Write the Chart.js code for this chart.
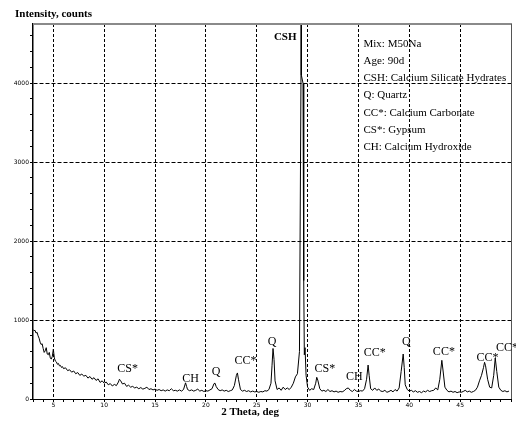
<!DOCTYPE html>
<html>
<head>
<meta charset="utf-8">
<script src="https://cdn.jsdelivr.net/npm/chart.js@4.4.0/dist/chart.umd.min.js"></script>
<style>
  html, body { margin: 0; padding: 0; background: #fff; }
  #wrap { width: 516px; height: 427px; }
</style>
</head>
<body>
<div id="wrap"><canvas id="chart" width="516" height="427"></canvas></div>
<script>
// 2 Theta (deg) and intensity (counts)
const twoTheta = [
  3.0, 3.1, 3.2, 3.3, 3.4, 3.5, 3.6, 3.7, 3.8, 3.9,
  4.0, 4.1, 4.2, 4.3, 4.4, 4.5, 4.6, 4.7, 4.8, 4.9,
  5.0, 5.1, 5.2, 5.3, 5.4, 5.5, 5.6, 5.7, 5.8, 5.9,
  6.0, 6.2, 6.4, 6.6, 6.8, 7.0, 7.2, 7.4, 7.6, 7.8,
  8.0, 8.2, 8.4, 8.6, 8.8, 9.0, 9.2, 9.4, 9.6, 9.8,
  10.0, 10.2, 10.4, 10.6, 10.8, 11.0, 11.2, 11.4, 11.5, 11.6,
  11.8, 12.0, 12.2, 12.4, 12.6, 12.8, 13.0, 13.2, 13.4, 13.6,
  13.8, 14.0, 14.2, 14.4, 14.6, 14.8, 15.0, 15.2, 15.4, 15.6,
  15.8, 16.0, 16.2, 16.4, 16.6, 16.8, 17.0, 17.2, 17.4, 17.6,
  17.8, 18.0, 18.1, 18.2, 18.4, 18.6, 18.8, 19.0, 19.2, 19.4,
  19.6, 19.8, 20.0, 20.2, 20.4, 20.6, 20.8, 20.9, 21.0, 21.2,
  21.4, 21.6, 21.8, 22.0, 22.2, 22.4, 22.6, 22.8, 23.0, 23.1,
  23.2, 23.4, 23.6, 23.8, 24.0, 24.2, 24.4, 24.6, 24.8, 25.0,
  25.2, 25.4, 25.6, 25.8, 26.0, 26.2, 26.4, 26.5, 26.6, 26.7,
  26.8, 27.0, 27.2, 27.4, 27.6, 27.8, 28.0, 28.2, 28.4, 28.6,
  28.8, 29.0, 29.2, 29.35, 29.37, 29.39, 29.55, 29.62, 29.68, 29.75,
  29.85, 30.0, 30.2, 30.4, 30.6, 30.8, 30.9, 31.0, 31.2, 31.4,
  31.6, 31.8, 32.0, 32.2, 32.4, 32.6, 32.8, 33.0, 33.2, 33.4,
  33.6, 33.8, 34.0, 34.2, 34.4, 34.6, 34.8, 35.0, 35.2, 35.4,
  35.6, 35.8, 35.95, 36.05, 36.2, 36.4, 36.6, 36.8, 37.0, 37.2,
  37.4, 37.6, 37.8, 38.0, 38.2, 38.4, 38.6, 38.8, 39.0, 39.2,
  39.4, 39.5, 39.6, 39.8, 40.0, 40.2, 40.4, 40.6, 40.8, 41.0,
  41.2, 41.4, 41.6, 41.8, 42.0, 42.2, 42.4, 42.6, 42.8, 43.0,
  43.2, 43.3, 43.5, 43.7, 43.9, 44.1, 44.3, 44.5, 44.7, 44.9,
  45.1, 45.3, 45.5, 45.7, 45.9, 46.1, 46.3, 46.5, 46.7, 46.9,
  47.1, 47.3, 47.4, 47.5, 47.7, 47.9, 48.1, 48.3, 48.45, 48.6,
  48.8, 49.0, 49.2, 49.4, 49.6, 49.8
];
const counts = [
  880, 865, 870, 835, 845, 800, 770, 720, 690, 700,
  640, 590, 610, 650, 570, 560, 590, 520, 505, 540,
  630, 520, 480, 470, 440, 450, 420, 425, 400, 410,
  385, 395, 360, 370, 340, 355, 320, 335, 300, 315,
  290, 300, 265, 285, 250, 270, 235, 255, 210, 230,
  200, 215, 180, 195, 165, 185, 170, 215, 250, 235,
  190, 200, 160, 175, 150, 160, 140, 150, 130, 145,
  125, 135, 150, 120, 130, 115, 125, 110, 120, 105,
  115, 100, 115, 105, 130, 105, 110, 100, 115, 100,
  120, 205, 160, 120, 105, 115, 100, 110, 125, 100,
  110, 95, 105, 100, 115, 130, 195, 200, 160, 120,
  105, 115, 100, 110, 95, 105, 115, 170, 300, 330,
  250, 120, 100, 110, 95, 105, 90, 100, 90, 95,
  85, 95, 90, 105, 100, 120, 200, 420, 640, 500,
  230, 120, 140, 110, 150, 120, 140, 120, 150, 200,
  280, 320, 600, 4100, 4750, 4100, 4000, 1500, 560, 650,
  300, 150, 110, 130, 120, 200, 275, 240, 130, 100,
  110, 95, 120, 95, 105, 90, 100, 85, 95, 90,
  105, 130, 140, 110, 95, 120, 100, 95, 105, 100,
  130, 250, 430, 300, 130, 110, 140, 110, 125, 100,
  95, 110, 85, 95, 110, 90, 120, 100, 140, 350,
  570, 400, 180, 120, 100, 110, 90, 105, 85, 95,
  80, 100, 90, 110, 95, 105, 110, 140, 115, 250,
  490, 380, 150, 110, 90, 100, 85, 95, 80, 90,
  85, 95, 110, 90, 100, 85, 95, 110, 150, 230,
  300, 400, 465, 420, 250, 150, 140, 300, 520, 350,
  150, 110, 95, 105, 90, 100
];

// phase labels over the peaks: text, 2 Theta, counts
const peakNames  = ['CS*', 'CH', 'Q', 'CC*', 'Q', 'CS*', 'CH', 'CC*', 'Q', 'CC*', 'CC*', 'CC*'];
const peakTheta  = [12.3, 18.5, 21.0, 23.9, 26.5, 31.7, 34.6, 36.6, 39.7, 43.4, 47.7, 49.6];
const peakCounts = [380, 250, 350, 480, 730, 380, 280, 580, 720, 595, 520, 650];

const legendLines = [
  'Mix: M50Na',
  'Age: 90d',
  'CSH: Calcium Silicate Hydrates',
  'Q: Quartz',
  'CC*: Calcium Carbonate',
  'CS*: Gypsum',
  'CH: Calcium Hydroxide'
];

const xTickLabels = [5, 10, 15, 20, 25, 30, 35, 40, 45];
const yTickLabels = [0, 1000, 2000, 3000, 4000];

const serif = "'Liberation Serif', 'Times New Roman', serif";

const decorations = {
  id: 'decorations',
  afterDraw(chart) {
    const {ctx, chartArea: a, scales: {x, y}} = chart;
    ctx.save();
    // top and right frame
    ctx.strokeStyle = '#8a8a8a';
    ctx.lineWidth = 2;
    ctx.beginPath();
    ctx.moveTo(a.left, a.top);
    ctx.lineTo(a.right + 1, a.top);
    ctx.stroke();
    ctx.lineWidth = 1;
    ctx.strokeStyle = '#555';
    ctx.beginPath();
    ctx.moveTo(a.right + 0.5, a.top);
    ctx.lineTo(a.right + 0.5, a.bottom);
    ctx.stroke();

    ctx.fillStyle = '#000';
    ctx.textAlign = 'center';
    ctx.textBaseline = 'middle';
    ctx.font = '12px ' + serif;
    peakNames.forEach((t, i) => {
      ctx.fillText(t, x.getPixelForValue(peakTheta[i]), y.getPixelForValue(peakCounts[i]));
    });
    ctx.font = 'bold 11px ' + serif;
    ctx.fillText('CSH', x.getPixelForValue(27.8), y.getPixelForValue(4580));

    ctx.textAlign = 'left';
    ctx.font = '11px ' + serif;
    legendLines.forEach((t, i) => {
      ctx.fillText(t, x.getPixelForValue(35.5), a.top + 20 + i * 17.2);
    });

    ctx.font = 'bold 11px ' + serif;
    ctx.fillText('Intensity, counts', 15, 14);
    ctx.textAlign = 'center';
    ctx.fillText('2 Theta, deg', 250, 412);
    ctx.restore();
  }
};

new Chart(document.getElementById('chart'), {
  type: 'line',
  data: {
    labels: twoTheta,
    datasets: [{
      data: twoTheta.map((t, i) => ({x: t, y: counts[i]})),
      borderColor: '#000',
      borderWidth: 1,
      pointRadius: 0,
      tension: 0,
      fill: false
    }]
  },
  options: {
    responsive: false,
    animation: false,
    events: [],
    layout: {padding: {top: 24, right: 5, left: 0, bottom: 0}},
    plugins: {legend: {display: false}, tooltip: {enabled: false}},
    scales: {
      x: {
        type: 'linear',
        min: 3,
        max: 50,
        afterFit(s) { s.height = 28; },
        ticks: {
          stepSize: 1,
          autoSkip: false,
          maxRotation: 0,
          padding: 0,
          color: '#000',
          font: {size: 6, family: 'DejaVu Sans'},
          callback: v => xTickLabels.includes(v) ? String(v) : ''
        },
        grid: {
          color: c => xTickLabels.includes(c.tick && c.tick.value) ? '#000' : 'transparent',
          lineWidth: 1,
          tickColor: '#000',
          tickLength: 3
        },
        border: {color: '#000', width: 1, dash: [3, 2]}
      },
      y: {
        min: 0,
        max: 4750,
        afterFit(s) { s.width = 33; },
        ticks: {
          stepSize: 200,
          includeBounds: false,
          autoSkip: false,
          padding: 1,
          color: '#000',
          font: {size: 6, family: 'DejaVu Sans'},
          callback: v => yTickLabels.includes(v) ? String(v) : ''
        },
        grid: {
          color: c => (c.tick && c.tick.value > 0 && yTickLabels.includes(c.tick.value)) ? '#000' : 'transparent',
          lineWidth: 1,
          tickColor: '#000',
          tickLength: 3
        },
        border: {color: '#000', width: 1.5, dash: [4, 2]}
      }
    }
  },
  plugins: [decorations]
});
</script>
</body>
</html>
